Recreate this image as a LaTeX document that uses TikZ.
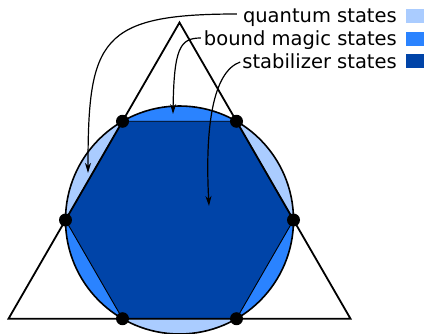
\documentclass[tikz,border=0pt]{standalone}
\usepackage{fontspec}
\setmainfont{DejaVu Sans}
\usetikzlibrary{arrows.meta,calc}
\definecolor{qcol}{RGB}{170,204,255}
\definecolor{bcol}{RGB}{42,131,255}
\definecolor{scol}{RGB}{0,68,168}
\begin{document}
\begin{tikzpicture}[x=1pt,y=-1pt,
  lbl/.style={anchor=base east,inner sep=0pt,font=\fontsize{19.5}{23}\selectfont},
  vdot/.style={circle,fill=black,inner sep=0pt,minimum size=13pt},
  ptr/.style={line width=1.2pt,-{Stealth[length=10pt,width=6pt,inset=3pt]}},
  sq/.style={draw=none}]
\useasboundingbox (0,0) rectangle (424,333);
% geometry
\coordinate (C) at (179.5,220);
\coordinate (V0) at (293.5,220);
\coordinate (V1) at (236.5,121.27);
\coordinate (V2) at (122.5,121.27);
\coordinate (V3) at (65.5,220);
\coordinate (V4) at (122.5,318.73);
\coordinate (V5) at (236.5,318.73);
\coordinate (TA) at (179.5,22.54);
\coordinate (TB) at (8.5,318.73);
\coordinate (TC) at (350.5,318.73);
% regions
\fill[qcol] (C) circle[radius=114pt];
\begin{scope}
  \clip (TA) -- (TB) -- (TC) -- cycle;
  \fill[bcol] (C) circle[radius=114pt];
\end{scope}
\filldraw[fill=scol,draw=black,line width=0.9pt,line join=round]
  (V0) -- (V1) -- (V2) -- (V3) -- (V4) -- (V5) -- cycle;
\draw[line width=1.6pt] (C) circle[radius=114pt];
\draw[line width=1.8pt,line join=miter] (TA) -- (TB) -- (TC) -- cycle;
% labels
\node[lbl] (ql) at (397,22.5) {quantum states};
\node[lbl] (bl) at (397,45) {bound magic states};
\node[lbl] (sl) at (397,68) {stabilizer states};
\fill[qcol] (406,9) rectangle (424,23);
\fill[bcol] (406,32) rectangle (424,46);
\fill[scol] (406,54) rectangle (424,68);
% pointer targets
\coordinate (qt) at (88,173);
\coordinate (bt) at (173,114);
\coordinate (st) at (209,206);
\draw[ptr] ([xshift=-6pt,yshift=8.5pt]ql.base west)
  .. controls (100,14) and (88,40) .. (qt);
\draw[ptr] ([xshift=-3pt,yshift=7pt]bl.base west)
  .. controls (180,38) and (174,48) .. (bt);
\draw[ptr] ([xshift=-2pt,yshift=6pt]sl.base west)
  .. controls (212,72) and (205,130) .. (st);
% vertices
\foreach \i in {0,...,5} \node[vdot] (d\i) at (V\i) {};
\end{tikzpicture}
\end{document}
